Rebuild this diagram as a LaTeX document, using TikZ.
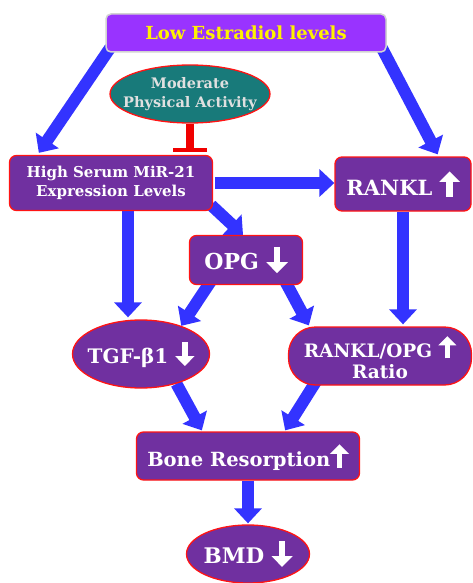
\documentclass[tikz,border=0pt]{standalone}
\usepackage{fontspec}
\setmainfont{DejaVu Serif}
\usetikzlibrary{shapes.geometric, arrows.meta, backgrounds}
\definecolor{boxpurple}{RGB}{112, 48, 160}
\definecolor{toppurple}{RGB}{153, 51, 255}
\definecolor{tealoval}{RGB}{24, 122, 122}
\definecolor{arrblue}{RGB}{51, 51, 255}
\definecolor{inhred}{RGB}{240, 0, 0}
\definecolor{edgered}{RGB}{255, 20, 20}
\newcommand{\upar}{\tikz[baseline=0pt]\draw[white, line width=0.3em, -{Triangle[length=0.5em,width=0.95em]}] (0,-0.05em) -- (0,1.15em);}
\newcommand{\dnar}{\tikz[baseline=0pt]\draw[white, line width=0.3em, -{Triangle[length=0.5em,width=0.95em]}] (0,1.05em) -- (0,-0.15em);}

\begin{document}
\begin{tikzpicture}[x=1pt, y=-1pt,
  box/.style={rectangle, draw=edgered, line width=1.3pt, fill=boxpurple, rounded corners=7pt, text=white, align=center, inner sep=0pt},
  oval/.style={ellipse, draw=edgered, line width=1.3pt, fill=boxpurple, text=white, align=center, inner xsep=-16pt, inner ysep=0pt},
  arr/.style={-{Triangle[length=15pt, width=27pt]}, line width=12pt, draw=arrblue},
  inh/.style={-{Bar[width=34pt, line width=4pt]}, line width=8pt, draw=inhred}
]
  \useasboundingbox (0,0) rectangle (472,583);
  \node[rectangle, draw=gray!35, line width=1.5pt, fill=toppurple, rounded corners=5pt, minimum width=280pt, minimum height=38pt, text=yellow, font=\bfseries\fontsize{18}{21}\selectfont] (low) at (246,33) {Low Estradiol levels};
  \node[ellipse, draw=edgered, line width=1.3pt, fill=tealoval, minimum width=160pt, minimum height=58pt, inner xsep=-40pt, inner ysep=-4pt, align=center, text=white!88!black, font=\bfseries\fontsize{14.5}{19}\selectfont] (mod) at (190,94) {Moderate\\Physical Activity};
  \node[box, minimum width=203pt, minimum height=55pt, font=\bfseries\fontsize{15}{19}\selectfont] (high) at (111,183) {High Serum MiR-21\\Expression Levels};
  \node[box, minimum width=136pt, minimum height=54pt, font=\bfseries\fontsize{21}{24}\selectfont] (rankl) at (403,184) {RANKL \upar};
  \node[box, minimum width=113pt, minimum height=49pt, font=\bfseries\fontsize{22}{25}\selectfont] (opg) at (246,260) {OPG \dnar};
  \node[oval, minimum width=137pt, minimum height=68pt, font=\bfseries\fontsize{20}{23}\selectfont] (tgf) at (141,354) {TGF-β1 \dnar};
  \node[box, rounded corners=27pt, minimum width=183pt, minimum height=58pt, font=\bfseries\fontsize{18.5}{21}\selectfont] (ratio) at (380,356) {RANKL/OPG \upar\\Ratio};
  \node[box, minimum width=223pt, minimum height=48pt, font=\bfseries\fontsize{19.5}{22}\selectfont] (bone) at (248,456) {Bone Resorption\upar};
  \node[oval, minimum width=123pt, minimum height=58pt, font=\bfseries\fontsize{21.5}{24}\selectfont] (bmd) at (248,554) {BMD \dnar};
  \begin{scope}[on background layer]
    \draw[arr] ([xshift=5pt,yshift=5pt]low.south west) -- ([xshift=30pt,yshift=2pt]high.north west);
    \draw[arr] ([xshift=-5pt,yshift=5pt]low.south east) -- ([xshift=-34pt,yshift=2pt]rankl.north east);
    \draw[arr, shorten <=2pt] (high.east) -- (high.east -| rankl.west);
    \draw[arr] ([xshift=-2pt,yshift=6pt]high.south east) -- ([xshift=-3pt]opg.north);
    \draw[arr] ([xshift=17pt]high.south) -- ([xshift=17pt,yshift=2pt]high.south |- tgf.north);
    \draw[arr] (rankl.south) -- ([yshift=2pt]rankl.south |- ratio.north);
    \draw[arr] ([xshift=22pt,yshift=4pt]opg.south west) -- (tgf.35);
    \draw[arr] ([xshift=-18pt,yshift=4pt]opg.south east) -- ([xshift=21pt,yshift=1pt]ratio.north west);
    \draw[arr] (tgf.-40) -- ([xshift=66pt,yshift=1pt]bone.north west);
    \draw[arr] ([xshift=28pt,yshift=4pt]ratio.south west) -- ([xshift=-75pt,yshift=1pt]bone.north east);
    \draw[arr] (bone.south) -- ([yshift=1pt]bmd.north);
  \end{scope}
  \draw[inh] (mod.south) -- ([yshift=3pt]mod.south |- high.north);
\end{tikzpicture}
\end{document}
